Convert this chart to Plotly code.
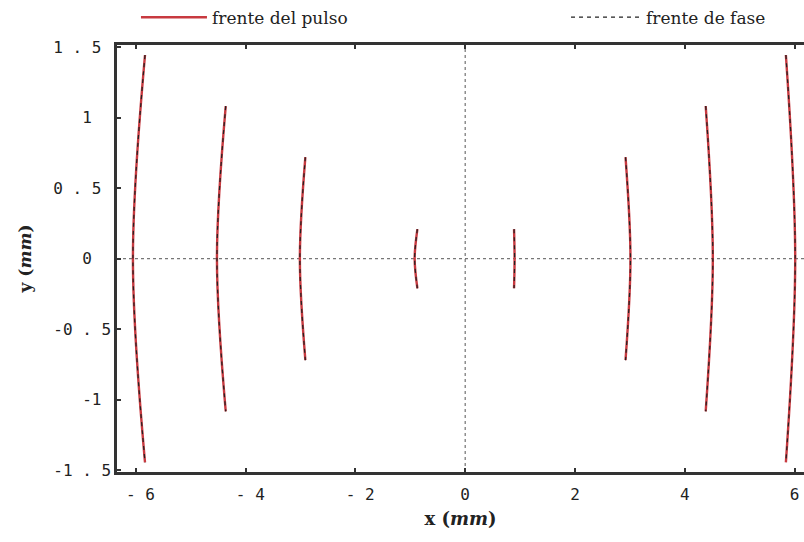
import plotly.graph_objects as go

# Pulse / phase front data (mm)
front_x_center = [-6.05, -4.52, -3.01, -0.92, 0.90, 3.01, 4.51, 6.01]
front_x_tip = [-5.83, -4.36, -2.91, -0.87, 0.89, 2.92, 4.38, 5.84]
front_y_tip = [1.445, 1.083, 0.72, 0.21, 0.21, 0.72, 1.083, 1.445]

NB = "\u00a0"
x_tickvals = [-6, -4, -2, 0, 2, 4, 6]
x_ticktext = [NB + "- 6", NB + "- 4", NB + "- 2", "0", "2", "4", "6"]
y_tickvals = [-1.5, -1, -0.5, 0, 0.5, 1, 1.5]
y_ticktext = ["-1 . 5", "-1" + NB, "-0 . 5", "0" + NB * 2, "0 . 5" + NB, "1" + NB * 2, "1 . 5" + NB]

RED = "#c83a40"
fig = go.Figure()

for i, (xc, xt, yt) in enumerate(zip(front_x_center, front_x_tip, front_y_tip)):
    fig.add_trace(go.Scatter(
        x=[xt, xc, xt], y=[yt, 0, -yt], mode="lines",
        line=dict(color=RED, width=2.4, shape="spline"),
        name="frente del pulso", legend="legend", showlegend=(i == 0),
        hoverinfo="skip"))
for i, (xc, xt, yt) in enumerate(zip(front_x_center, front_x_tip, front_y_tip)):
    fig.add_trace(go.Scatter(
        x=[xt, xc, xt], y=[yt, 0, -yt], mode="lines",
        line=dict(color="#222222", width=1.2, shape="spline", dash="4px,4px"),
        name="frente de fase", legend="legend2", showlegend=(i == 0),
        hoverinfo="skip"))

# dotted axes through the origin
fig.add_shape(type="line", xref="paper", yref="y", x0=0, x1=1, y0=0, y1=0,
              line=dict(color="#555555", width=1, dash="dot"), layer="below")
fig.add_shape(type="line", xref="x", yref="paper", x0=0, x1=0, y0=0, y1=1,
              line=dict(color="#555555", width=1, dash="dot"), layer="below")

tickfont = dict(family="DejaVu Sans Mono", size=16, color="#222222")
fig.update_layout(
    width=804, height=542,
    margin=dict(l=117, r=0, t=45, b=70, autoexpand=False),
    paper_bgcolor="white", plot_bgcolor="white",
    xaxis=dict(range=[-6.34, 6.17], showgrid=False, zeroline=False, automargin=False,
               showline=True, linecolor="#333333", linewidth=2.5, mirror="ticks",
               ticks="inside", ticklen=4, tickwidth=2, tickcolor="#333333",
               tickvals=x_tickvals, ticktext=x_ticktext, tickfont=tickfont,
               ticklabelstandoff=6,
               title=dict(text="<b>x (<i>mm</i>)</b>", standoff=10,
                          font=dict(family="DejaVu Serif", size=18, color="#222222"))),
    yaxis=dict(range=[-1.513, 1.516], showgrid=False, zeroline=False, automargin=False,
               showline=True, linecolor="#333333", linewidth=2.5, mirror=False,
               ticks="inside", ticklen=4, tickwidth=2, tickcolor="#333333",
               tickvals=y_tickvals, ticktext=y_ticktext, tickfont=tickfont,
               ticklabelstandoff=0,
               title=dict(text="<b>y (<i>mm</i>)</b>", standoff=18,
                          font=dict(family="DejaVu Serif", size=17, color="#222222"))),
    legend=dict(x=0.0276, y=1.064, xanchor="left", yanchor="middle",
                orientation="h", itemwidth=66, bgcolor="rgba(0,0,0,0)",
                font=dict(family="DejaVu Serif", size=17, color="#222222")),
    legend2=dict(x=0.6536, y=1.064, xanchor="left", yanchor="middle",
                 orientation="h", itemwidth=70, bgcolor="rgba(0,0,0,0)",
                 font=dict(family="DejaVu Serif", size=17, color="#222222")),
)

fig.write_html("out.html", config={"displayModeBar": False},
               post_script="document.body.style.margin='0';")
